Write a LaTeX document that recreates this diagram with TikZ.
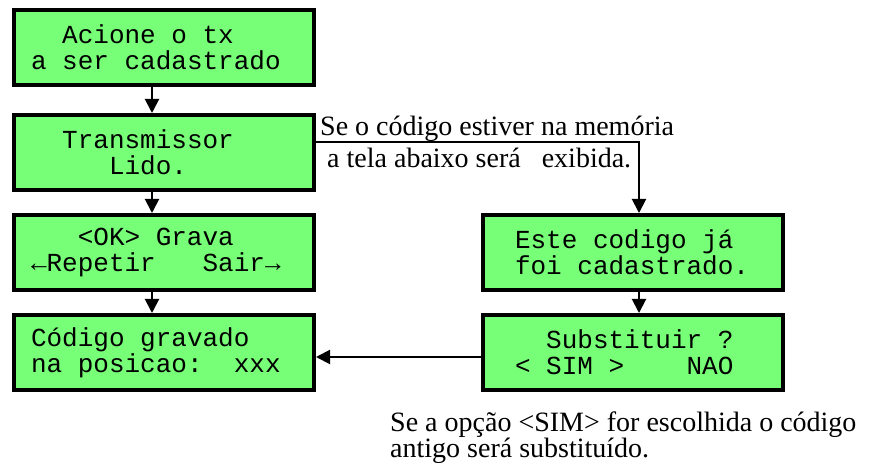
\documentclass[tikz,border=0pt]{standalone}
\usepackage{fontspec}
\setmainfont{Liberation Serif}
\setmonofont{Liberation Mono}
\usetikzlibrary{arrows.meta}
\definecolor{lcdgreen}{RGB}{119,255,119}

\begin{document}
\begin{tikzpicture}[x=1pt,y=1pt,
every node/.style = {
inner sep = 0pt,
text      = black},
lcd/.style = {
shape          = rectangle,
draw,
line width     = 4pt,
fill           = lcdgreen,
minimum width  = 300pt,
minimum height = 75pt,
align          = left,
font           = \ttfamily\fontsize{26}{26}\selectfont,
execute at begin node = {\spaceskip=15.6pt\relax}},
lcd left/.style  = {lcd, text width = 266pt},   %% 17 chars
lcd right/.style = {lcd, text width = 236pt},   %% 15 chars
black edge/.style = { line width = 2pt,
-{Triangle[length=14pt,width=14pt]}},
note/.style = {
anchor = base west,
align  = left,
font   = \fontsize{28}{25}\selectfont}
]
\useasboundingbox (0,0) rectangle (880,468);
%
\node[lcd left] (acione)  at (164,420.5) {\phantom{XX}Acione o tx\\a ser cadastrado};
\node[lcd left] (lido)    at (164,315.5) {\phantom{XX}Transmissor\\\phantom{XXXXX}Lido.};
\node[lcd left] (grava)   at (164,215.5) {\phantom{XXX}<OK> Grava\\←Repetir\phantom{XXX}Sair→};
\node[lcd left] (gravado) at (164,115.5) {Código gravado\\na posicao:\phantom{XX}xxx};
\node[lcd right] (existe) at (633,215.5) {Este codigo já\\foi cadastrado.};
\node[lcd right] (subst)  at (633,115.5) {\phantom{XX}Substituir ?\\< SIM >\phantom{XXXX}NAO};
%
\node[note] (memo1) at (320,332) {Se o código estiver na memória};
\node[note] (memo2) at (327,300) {a tela abaixo será\ \ \ exibida.};
\node[note] (aviso) at (390,10) {Se a opção <SIM> for escolhida o código\\antigo será substituído.};
%
\draw[black edge] ([xshift=-12pt]acione.south) -- ([xshift=-12pt]lido.north);
\draw[black edge] ([xshift=-12pt]lido.south) -- ([xshift=-12pt]grava.north);
\draw[black edge] ([xshift=-12pt]grava.south) -- ([xshift=-12pt]gravado.north);
\draw[black edge] ([yshift=10.5pt]lido.east) -| ([xshift=6pt]existe.north);
\draw[black edge] ([xshift=6pt]existe.south) -- ([xshift=6pt]subst.north);
\draw[black edge] ([yshift=-4.5pt]subst.west) -- ([yshift=-4.5pt]gravado.east);
%
\end{tikzpicture}
\end{document}
